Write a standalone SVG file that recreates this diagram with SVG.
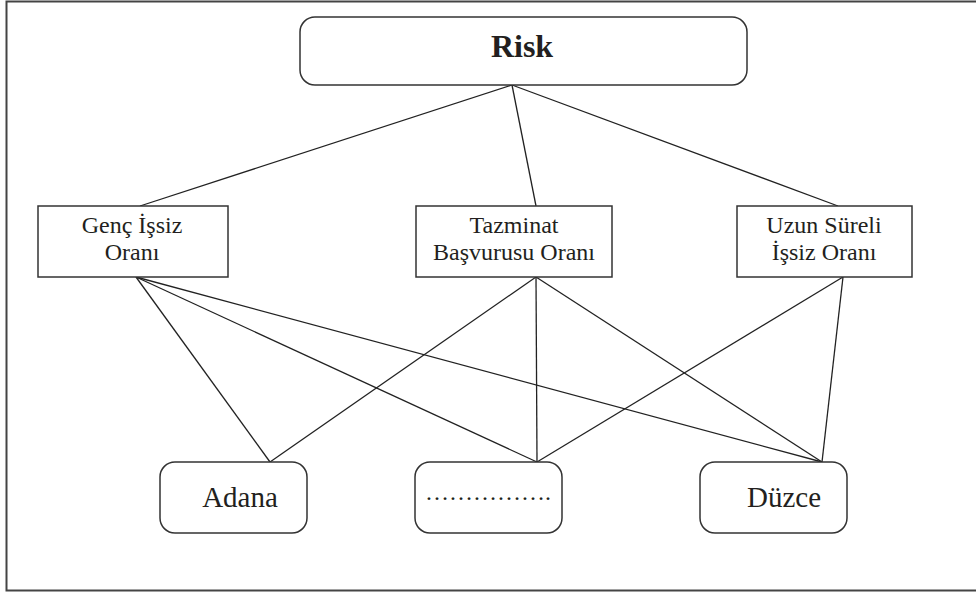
<svg xmlns="http://www.w3.org/2000/svg" width="976" height="592" viewBox="0 0 976 592">
<style>
.box{fill:#fff;stroke:#333;stroke-width:1.5}
.frame{fill:none;stroke:#444;stroke-width:2}
.t{fill:#231f20;text-anchor:middle}
.s{font-size:24px}
.l{font-size:29px}
.c line{stroke:#222;stroke-width:1.3}
</style>
<rect class="frame" x="6.5" y="1.5" width="980" height="589"/>
<g class="c" id="connectors">
<line x1="512" y1="85" x2="140" y2="206"/>
<line x1="512" y1="85" x2="536" y2="206"/>
<line x1="512" y1="85" x2="838" y2="206"/>
<line x1="136" y1="277" x2="270" y2="462"/>
<line x1="136" y1="277" x2="537" y2="462"/>
<line x1="136" y1="277" x2="822" y2="462"/>
<line x1="536" y1="277" x2="270" y2="462"/>
<line x1="536" y1="277" x2="537" y2="462"/>
<line x1="536" y1="277" x2="822" y2="462"/>
<line x1="843" y1="277" x2="537" y2="462"/>
<line x1="843" y1="277" x2="822" y2="462"/>
</g>
<g font-family="'Liberation Serif','Times New Roman',serif">
<g id="risk">
<rect class="box" x="300" y="17" width="447" height="68" rx="15"/>
<text class="t" x="522" y="57" font-size="32" font-weight="bold">Risk</text>
</g>
<g id="genc">
<rect class="box" x="38" y="206" width="190" height="71"/>
<text class="t s" x="132" y="233">Genç İşsiz</text>
<text class="t s" x="132" y="260">Oranı</text>
</g>
<g id="tazminat">
<rect class="box" x="416" y="206" width="196" height="71"/>
<text class="t s" x="514" y="233">Tazminat</text>
<text class="t s" x="514" y="260">Başvurusu Oranı</text>
</g>
<g id="uzun">
<rect class="box" x="737" y="206" width="175" height="71"/>
<text class="t s" x="824" y="233">Uzun Süreli</text>
<text class="t s" x="824" y="260">İşsiz Oranı</text>
</g>
<g id="adana">
<rect class="box" x="160" y="462" width="147" height="71" rx="15"/>
<text class="t l" x="240" y="507">Adana</text>
</g>
<g id="dots">
<rect class="box" x="415" y="462" width="147" height="71" rx="15"/>
<text class="t s" x="488" y="500">…………….</text>
</g>
<g id="duzce">
<rect class="box" x="700" y="462" width="147" height="71" rx="15"/>
<text class="t l" x="784" y="507">Düzce</text>
</g>
</g>
</svg>
